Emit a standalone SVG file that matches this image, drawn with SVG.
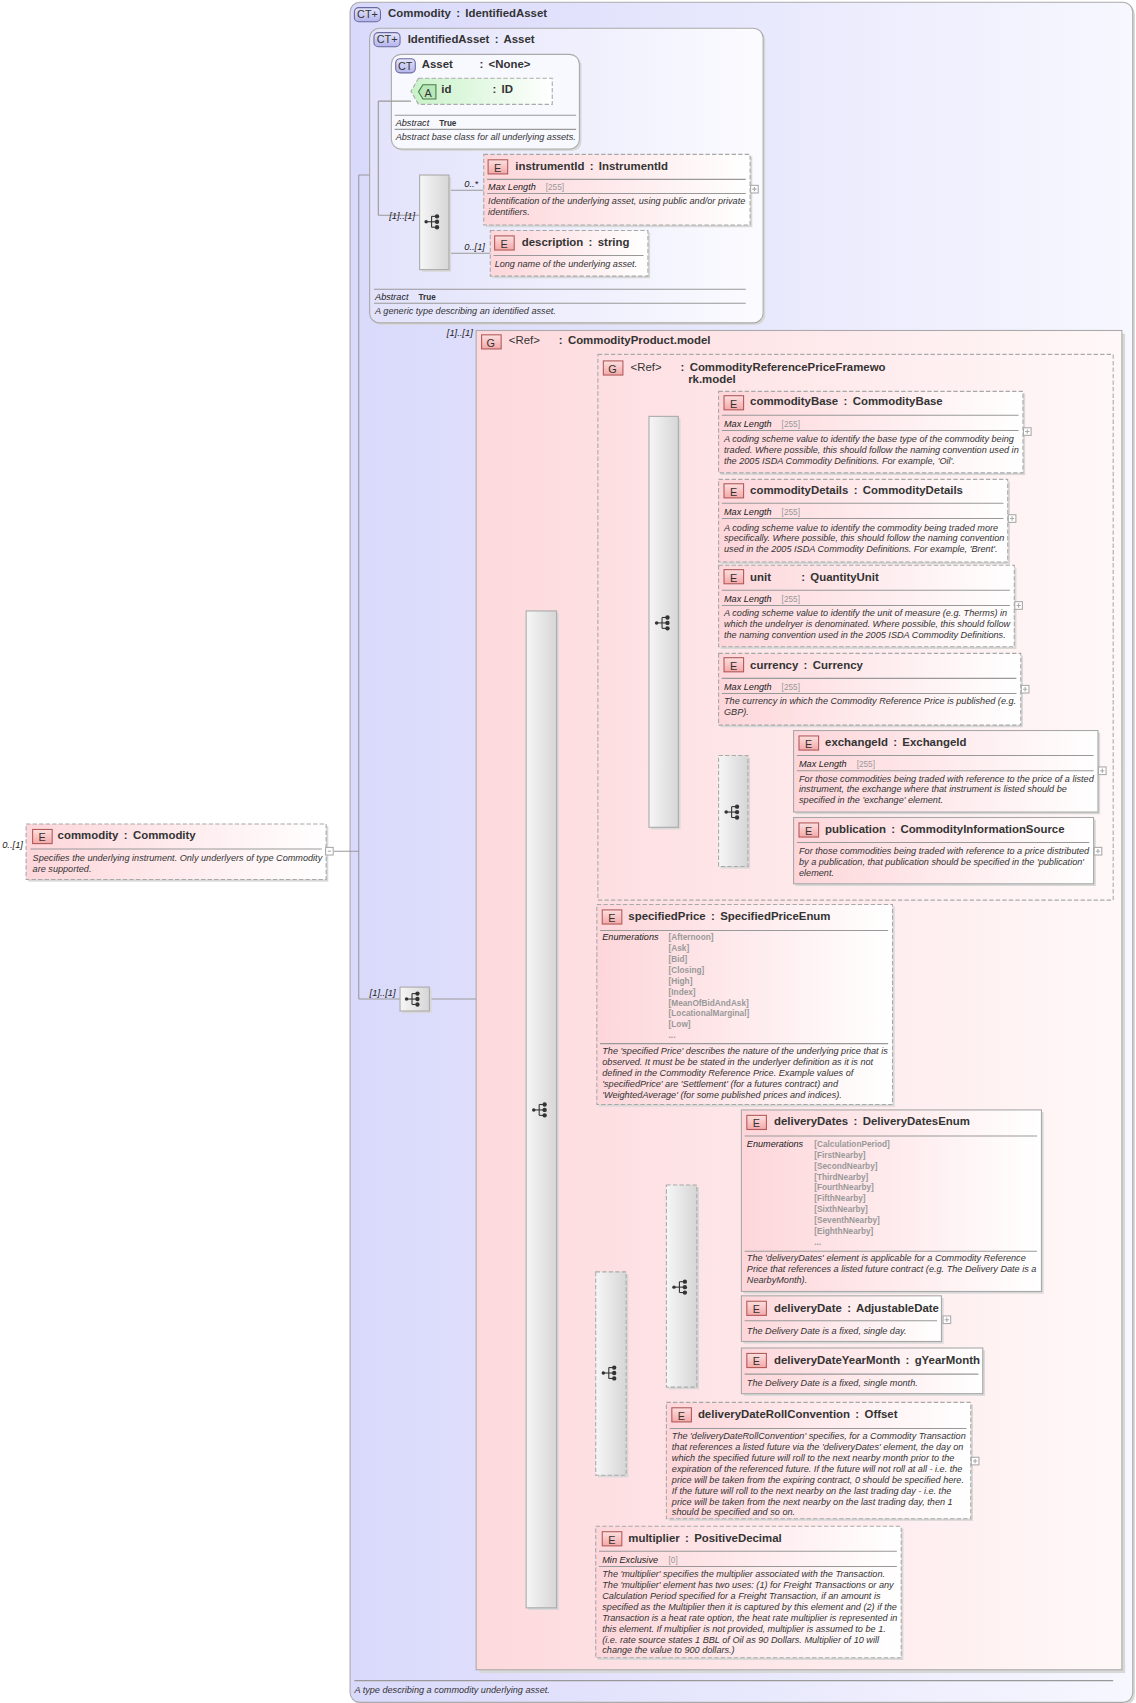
<svg xmlns="http://www.w3.org/2000/svg" width="1136" height="1703" viewBox="0 0 1136 1703">
<defs>
<linearGradient id="gE" x1="0" y1="0" x2="1" y2="0"><stop offset="0" stop-color="#fdd6da"/><stop offset="1" stop-color="#ffffff"/></linearGradient>
<linearGradient id="gG" x1="0" y1="0" x2="1" y2="0"><stop offset="0" stop-color="#fdd9dd"/><stop offset="1" stop-color="#fff8f8"/></linearGradient>
<linearGradient id="gCT" x1="0" y1="0" x2="1" y2="0"><stop offset="0" stop-color="#d9d9fb"/><stop offset="1" stop-color="#f7f7ff"/></linearGradient>
<linearGradient id="gCT2" x1="0" y1="0" x2="1" y2="0"><stop offset="0" stop-color="#e2e2fb"/><stop offset="1" stop-color="#fbfbff"/></linearGradient>
<linearGradient id="gA" x1="0" y1="0" x2="1" y2="0"><stop offset="0" stop-color="#c8f2c8"/><stop offset="1" stop-color="#ffffff"/></linearGradient>
<linearGradient id="gS" x1="0" y1="0" x2="1" y2="0"><stop offset="0" stop-color="#f6f6f6"/><stop offset="1" stop-color="#d6d6d6"/></linearGradient>
<linearGradient id="gI" x1="0" y1="0" x2="0" y2="1"><stop offset="0" stop-color="#fde0e0"/><stop offset="1" stop-color="#f4a8a8"/></linearGradient>
<linearGradient id="gIc" x1="0" y1="0" x2="0" y2="1"><stop offset="0" stop-color="#e6e6fb"/><stop offset="1" stop-color="#b4b4ec"/></linearGradient>
<symbol id="seq" viewBox="-9 -7 18 14" width="18" height="14" overflow="visible">
<g stroke="#333" stroke-width="1" fill="#333"><line x1="-7" y1="0" x2="-2" y2="0"/><line x1="-2" y1="-5" x2="-2" y2="5"/><line x1="-2" y1="-5" x2="3" y2="-5"/><line x1="-2" y1="0" x2="3" y2="0"/><line x1="-2" y1="5" x2="3" y2="5"/><circle cx="-7" cy="0" r="1.6" stroke="none"/><circle cx="3" cy="-5" r="2" stroke="none"/><circle cx="3" cy="0" r="2" stroke="none"/><circle cx="3" cy="5" r="2" stroke="none"/></g>
</symbol>
<symbol id="plus" width="8" height="8" overflow="visible"><rect x="0.5" y="0.5" width="7" height="7" fill="#fff" stroke="#aaa"/><path d="M2 4h4M4 2v4" stroke="#aaa"/></symbol>
</defs>
<style>
text{font-family:"Liberation Sans",Arial,sans-serif;fill:#333}
.t{font-size:10.5px;font-weight:bold;word-spacing:2px}
.d{font-size:8.4px;font-style:italic}
.k{font-size:8.4px;font-style:italic;fill:#222}
.v{font-size:7.6px;fill:#999}
.en{font-size:7.6px;fill:#999;font-weight:bold}
.m{font-size:8.6px;font-style:italic;fill:#222}
.ic{font-size:10px;fill:#333}
.el{fill:url(#gE);stroke:#a8a8a8;stroke-width:1}
.opt{stroke-dasharray:4,2}
.sh{fill:#d8d8d8}
.sep{stroke:#999;stroke-width:1}
.seqb{fill:url(#gS);stroke:#aaa}
.ie{fill:url(#gI);stroke:#b05a5a}
.ict{fill:url(#gIc);stroke:#6a6aa0}
.cn{stroke:#999;fill:none;stroke-width:1}
</style>
<g transform="scale(1.0871)">
<g id="ct-commodity">
<rect x="324" y="4" width="720" height="1564" rx="9" class="sh"/>
<rect x="322" y="2" width="720" height="1564" rx="9" fill="url(#gCT)" stroke="#aaa"/>
<rect x="326" y="7" width="24" height="13" rx="4" class="ict"/><text x="328.5" y="17" class="ic" font-size="9px">CT+</text>
<text x="357" y="16" class="t">Commodity : IdentifiedAsset</text>
<line x1="326" y1="1546" x2="1024" y2="1546" class="sep"/>
<text x="326" y="1557" class="d">A type describing a commodity underlying asset.</text>
</g>
<g id="ct-identifiedasset">
<rect x="342" y="28" width="362" height="271" rx="9" class="sh"/>
<rect x="340" y="26" width="362" height="271" rx="9" fill="url(#gCT2)" stroke="#aaa"/>
<rect x="344" y="30" width="24" height="13" rx="4" class="ict"/><text x="346.5" y="40" class="ic" font-size="9px">CT+</text>
<text x="375" y="40" class="t">IdentifiedAsset : Asset</text>
<line x1="344" y1="266" x2="686" y2="266" class="sep"/>
<text x="345" y="276" class="k" font-size="8px">Abstract</text><text x="385" y="276" class="d" style="font-style:normal;font-weight:bold;font-size:7.5px">True</text>
<line x1="344" y1="279" x2="686" y2="279" class="sep"/>
<text x="345" y="289" class="d">A generic type describing an identified asset.</text>
</g>
<g id="ct-asset">
<rect x="362" y="52" width="173" height="87" rx="9" class="sh"/>
<rect x="360" y="50" width="173" height="87" rx="9" fill="#f8f8ff" stroke="#aaa"/>
<rect x="364" y="54" width="18" height="13" rx="4" class="ict"/><text x="366" y="64" class="ic" font-size="9px">CT</text>
<text x="388" y="63" class="t">Asset</text><text x="441" y="63" class="t">: &lt;None&gt;</text>
<line x1="363" y1="106" x2="530" y2="106" class="sep"/>
<text x="364" y="116" class="k">Abstract</text><text x="404" y="116" class="d" style="font-style:normal;font-weight:bold;font-size:7.5px">True</text>
<line x1="363" y1="119" x2="530" y2="119" class="sep"/>
<text x="364" y="129" class="d">Abstract base class for all underlying assets.</text>
</g>
<g id="attr-id">
<path d="M385 72 H508 V96 H385 L378 84 Z" fill="url(#gA)" stroke="#aaa" stroke-dasharray="4,2"/>
<path d="M389 78 H401 V91 H389 L385 84.5 Z" fill="#b8e8b8" stroke="#4a7a4a"/><text x="390.5" y="89" class="ic">A</text>
<text x="406" y="86" class="t">id</text><text x="453" y="86" class="t">: ID</text>
</g>
<g id="connectors" class="cn">
<path d="M307 783 H330 M330 161 V919 M330 161 H340 M330 919 H368"/>
<path d="M348 93 V198 M348 93 H378 M348 198 H386"/>
<path d="M413 175 H445 M413 233 H451"/>
<path d="M395 919 H438"/>
<path d="M438 1020 H484"/>
<path d="M512 574 H597 M512 920 H549 M512 1262 H548 M512 1461 H548"/>
<path d="M624 393 H661 M624 473 H661 M624 553 H661 M624 630 H661 M624 742 H661"/>
<path d="M688 708 H730 M688 784 H730"/>
<path d="M576 1183 H613 M576 1340 H613"/>
<path d="M641 1102 H682 M641 1211 H682 M641 1262 H682"/>
</g>
<g id="labels">
<text x="2" y="780" class="m">0..[1]</text>
<text x="340" y="916" class="m">[1]..[1]</text>
<text x="358" y="201" class="m">[1]..[1]</text>
<text x="427" y="172" class="m">0..*</text>
<text x="427" y="230" class="m">0..[1]</text>
<text x="411" y="309" class="m">[1]..[1]</text>
<text x="457" y="1018" class="m">[1]..[1]</text>
<text x="528" y="333" class="m">0..[1]</text>
<text x="569" y="569" class="m">[1]..[1]</text>
<text x="638" y="394" class="m">0..[1]</text>
<text x="638" y="474" class="m">0..[1]</text>
<text x="638" y="554" class="m">0..[1]</text>
<text x="638" y="631" class="m">0..[1]</text>
<text x="638" y="743" class="m">0..[1]</text>
<text x="703" y="706" class="m">[1]..[1]</text>
<text x="703" y="779" class="m">[1]..[1]</text>
<text x="526" y="920" class="m">0..[1]</text>
<text x="526" y="1259" class="m">0..[1]</text>
<text x="590" y="1180" class="m">0..[1]</text>
<text x="590" y="1339" class="m">0..[1]</text>
<text x="655" y="1100" class="m">[1]..[1]</text>
<text x="655" y="1210" class="m">[1]..[1]</text>
<text x="655" y="1258" class="m">[1]..[1]</text>
<text x="526" y="1460" class="m">0..[1]</text>
</g>
<g id="el-commodity">
<rect x="26" y="760" width="276" height="51" class="sh"/>
<rect x="24" y="758" width="276" height="51" class="el opt"/>
<rect x="30" y="763" width="18" height="13" class="ie"/><text x="35.5" y="774" class="ic">E</text>
<text x="53" y="772" class="t">commodity : Commodity</text>
<line x1="28" y1="781" x2="296" y2="781" class="sep"/>
<text x="30" y="792" class="d">Specifies the underlying instrument. Only underlyers of type Commodity</text>
<text x="30" y="802" class="d">are supported.</text>
<rect x="299.5" y="779.5" width="7" height="7" fill="#fff" stroke="#aaa"/><path d="M301.5 783h3" stroke="#aaa"/>
</g>
<g id="choice-top">
<rect x="370" y="910" width="27" height="22" class="sh"/>
<rect x="368" y="908" width="27" height="22" class="seqb"/>
<use href="#seq" x="372" y="912"/>
</g>
<g id="seq-identified">
<rect x="388" y="163" width="27" height="87" class="sh"/>
<rect x="386" y="161" width="27" height="87" class="seqb"/>
<use href="#seq" x="390" y="197"/>
</g>
<g id="el-instrumentId">
<rect x="447" y="144" width="245" height="65" class="sh"/>
<rect x="445" y="142" width="245" height="65" class="el opt"/>
<rect x="449" y="147" width="18" height="13" class="ie"/><text x="454.5" y="158" class="ic">E</text>
<text x="474" y="156" class="t">instrumentId : InstrumentId</text>
<line x1="448" y1="165" x2="686" y2="165" class="sep"/>
<text x="449" y="175" class="k">Max Length</text><text x="502" y="175" class="v">[255]</text>
<line x1="448" y1="178" x2="686" y2="178" class="sep"/>
<text x="449" y="188" class="d">Identification of the underlying asset, using public and/or private</text>
<text x="449" y="198" class="d">identifiers.</text>
<use href="#plus" x="690" y="170"/>
</g>
<g id="el-description">
<rect x="453" y="214" width="145" height="42" class="sh"/>
<rect x="451" y="212" width="145" height="42" class="el opt"/>
<rect x="455" y="217" width="18" height="13" class="ie"/><text x="460.5" y="228" class="ic">E</text>
<text x="480" y="226" class="t">description : string</text>
<line x1="454" y1="235" x2="592" y2="235" class="sep"/>
<text x="455" y="246" class="d">Long name of the underlying asset.</text>
</g>
<g id="grp-product">
<rect x="441" y="307" width="594" height="1232" class="sh"/>
<rect x="438" y="304" width="594" height="1232" fill="url(#gG)" stroke="#aaa"/>
<rect x="443" y="308" width="18" height="13" class="ie"/><text x="447.5" y="319" class="ic">G</text>
<text x="468" y="316" class="t" style="font-weight:normal">&lt;Ref&gt;</text><text x="514" y="316" class="t">: CommodityProduct.model</text>
</g>
<g id="seq-product">
<rect x="486" y="564" width="28" height="917" class="sh"/>
<rect x="484" y="562" width="28" height="917" class="seqb"/>
<use href="#seq" x="489" y="1014"/>
</g>
<g id="grp-refprice">
<rect x="550" y="326" width="474" height="502" fill="none" stroke="#aaa" stroke-dasharray="4,2"/>
<rect x="555" y="332" width="18" height="13" class="ie"/><text x="559.5" y="343" class="ic">G</text>
<text x="580" y="341" class="t" style="font-weight:normal">&lt;Ref&gt;</text><text x="626" y="341" class="t">: CommodityReferencePriceFramewo</text>
<text x="633" y="352" class="t">rk.model</text>
</g>
<g id="seq-refprice">
<rect x="599" y="385" width="27" height="378" class="sh"/>
<rect x="597" y="383" width="27" height="378" class="seqb"/>
<use href="#seq" x="602" y="566"/>
</g>
<g id="el-commodityBase">
<rect x="663" y="362" width="280" height="75" class="sh"/>
<rect x="661" y="360" width="280" height="75" class="el opt"/>
<rect x="666" y="364" width="18" height="13" class="ie"/><text x="671.5" y="375" class="ic">E</text>
<text x="690" y="373" class="t">commodityBase : CommodityBase</text>
<line x1="664" y1="382" x2="937" y2="382" class="sep"/>
<text x="666" y="393" class="k">Max Length</text><text x="719" y="393" class="v">[255]</text>
<line x1="664" y1="396" x2="937" y2="396" class="sep"/>
<text x="666" y="407" class="d">A coding scheme value to identify the base type of the commodity being</text>
<text x="666" y="417" class="d">traded. Where possible, this should follow the naming convention used in</text>
<text x="666" y="427" class="d">the 2005 ISDA Commodity Definitions. For example, 'Oil'.</text>
<use href="#plus" x="941" y="393"/>
</g>
<g id="el-commodityDetails">
<rect x="663" y="443" width="266" height="76" class="sh"/>
<rect x="661" y="441" width="266" height="76" class="el opt"/>
<rect x="666" y="445" width="18" height="13" class="ie"/><text x="671.5" y="456" class="ic">E</text>
<text x="690" y="454" class="t">commodityDetails : CommodityDetails</text>
<line x1="664" y1="463" x2="923" y2="463" class="sep"/>
<text x="666" y="474" class="k">Max Length</text><text x="719" y="474" class="v">[255]</text>
<line x1="664" y1="477" x2="923" y2="477" class="sep"/>
<text x="666" y="488" class="d">A coding scheme value to identify the commodity being traded more</text>
<text x="666" y="498" class="d">specifically. Where possible, this should follow the naming convention</text>
<text x="666" y="508" class="d">used in the 2005 ISDA Commodity Definitions. For example, 'Brent'.</text>
<use href="#plus" x="927" y="473"/>
</g>
<g id="el-unit">
<rect x="663" y="522" width="272" height="75" class="sh"/>
<rect x="661" y="520" width="272" height="75" class="el opt"/>
<rect x="666" y="524" width="18" height="13" class="ie"/><text x="671.5" y="535" class="ic">E</text>
<text x="690" y="534" class="t">unit</text><text x="737" y="534" class="t">: QuantityUnit</text>
<line x1="664" y1="543" x2="929" y2="543" class="sep"/>
<text x="666" y="554" class="k">Max Length</text><text x="719" y="554" class="v">[255]</text>
<line x1="664" y1="557" x2="929" y2="557" class="sep"/>
<text x="666" y="567" class="d">A coding scheme value to identify the unit of measure (e.g. Therms) in</text>
<text x="666" y="577" class="d">which the undelryer is denominated. Where possible, this should follow</text>
<text x="666" y="587" class="d">the naming convention used in the 2005 ISDA Commodity Definitions.</text>
<use href="#plus" x="933" y="553"/>
</g>
<g id="el-currency">
<rect x="663" y="603" width="278" height="66" class="sh"/>
<rect x="661" y="601" width="278" height="66" class="el opt"/>
<rect x="666" y="605" width="18" height="13" class="ie"/><text x="671.5" y="616" class="ic">E</text>
<text x="690" y="615" class="t">currency : Currency</text>
<line x1="664" y1="624" x2="935" y2="624" class="sep"/>
<text x="666" y="635" class="k">Max Length</text><text x="719" y="635" class="v">[255]</text>
<line x1="664" y1="638" x2="935" y2="638" class="sep"/>
<text x="666" y="648" class="d">The currency in which the Commodity Reference Price is published (e.g.</text>
<text x="666" y="658" class="d">GBP).</text>
<use href="#plus" x="939" y="630"/>
</g>
<g id="choice-exchange">
<rect x="663" y="697" width="27" height="102" class="sh"/>
<rect x="661" y="695" width="27" height="102" class="seqb" stroke-dasharray="4,2"/>
<use href="#seq" x="666" y="740"/>
</g>
<g id="el-exchangeId">
<rect x="732" y="674" width="280" height="75" class="sh"/>
<rect x="730" y="672" width="280" height="75" class="el"/>
<rect x="735" y="677" width="18" height="13" class="ie"/><text x="740.5" y="688" class="ic">E</text>
<text x="759" y="686" class="t">exchangeId : ExchangeId</text>
<line x1="733" y1="695" x2="1006" y2="695" class="sep"/>
<text x="735" y="706" class="k">Max Length</text><text x="788" y="706" class="v">[255]</text>
<line x1="733" y1="709" x2="1006" y2="709" class="sep"/>
<text x="735" y="719" class="d">For those commodities being traded with reference to the price of a listed</text>
<text x="735" y="729" class="d">instrument, the exchange where that instrument is listed should be</text>
<text x="735" y="739" class="d">specified in the 'exchange' element.</text>
<use href="#plus" x="1010" y="705"/>
</g>
<g id="el-publication">
<rect x="732" y="754" width="276" height="61" class="sh"/>
<rect x="730" y="752" width="276" height="61" class="el"/>
<rect x="735" y="757" width="18" height="13" class="ie"/><text x="740.5" y="768" class="ic">E</text>
<text x="759" y="766" class="t">publication : CommodityInformationSource</text>
<line x1="733" y1="775" x2="1002" y2="775" class="sep"/>
<text x="735" y="786" class="d">For those commodities being traded with reference to a price distributed</text>
<text x="735" y="796" class="d">by a publication, that publication should be specified in the 'publication'</text>
<text x="735" y="806" class="d">element.</text>
<use href="#plus" x="1006" y="779"/>
</g>
<g id="el-specifiedPrice">
<rect x="551" y="834" width="272" height="184" class="sh"/>
<rect x="549" y="832" width="272" height="184" class="el opt"/>
<rect x="554" y="837" width="18" height="13" class="ie"/><text x="559.5" y="848" class="ic">E</text>
<text x="578" y="846" class="t">specifiedPrice : SpecifiedPriceEnum</text>
<line x1="552" y1="856" x2="817" y2="856" class="sep"/>
<text x="554" y="865" class="k">Enumerations</text>
<text class="en"><tspan x="615" y="865">[Afternoon]</tspan><tspan x="615" y="875">[Ask]</tspan><tspan x="615" y="885">[Bid]</tspan><tspan x="615" y="895">[Closing]</tspan><tspan x="615" y="905">[High]</tspan><tspan x="615" y="915">[Index]</tspan><tspan x="615" y="925">[MeanOfBidAndAsk]</tspan><tspan x="615" y="935">[LocationalMarginal]</tspan><tspan x="615" y="945">[Low]</tspan><tspan x="615" y="955">...</tspan></text>
<line x1="552" y1="960" x2="817" y2="960" class="sep"/>
<text x="554" y="970" class="d">The 'specified Price' describes the nature of the underlying price that is</text>
<text x="554" y="980" class="d">observed. It must be be stated in the underlyer definition as it is not</text>
<text x="554" y="990" class="d">defined in the Commodity Reference Price. Example values of</text>
<text x="554" y="1000" class="d">'specifiedPrice' are 'Settlement' (for a futures contract) and</text>
<text x="554" y="1010" class="d">'WeightedAverage' (for some published prices and indices).</text>
</g>
<g id="choice-delivery">
<rect x="550" y="1172" width="28" height="187" class="sh"/>
<rect x="548" y="1170" width="28" height="187" class="seqb" stroke-dasharray="4,2"/>
<use href="#seq" x="553" y="1256"/>
</g>
<g id="choice-dates">
<rect x="615" y="1092" width="28" height="186" class="sh"/>
<rect x="613" y="1090" width="28" height="186" class="seqb" stroke-dasharray="4,2"/>
<use href="#seq" x="618" y="1177"/>
</g>
<g id="el-deliveryDates">
<rect x="684" y="1023" width="276" height="167" class="sh"/>
<rect x="682" y="1021" width="276" height="167" class="el"/>
<rect x="687" y="1026" width="18" height="13" class="ie"/><text x="692.5" y="1037" class="ic">E</text>
<text x="712" y="1035" class="t">deliveryDates : DeliveryDatesEnum</text>
<line x1="685" y1="1045" x2="954" y2="1045" class="sep"/>
<text x="687" y="1055" class="k">Enumerations</text>
<text class="en"><tspan x="749" y="1055">[CalculationPeriod]</tspan><tspan x="749" y="1065">[FirstNearby]</tspan><tspan x="749" y="1075">[SecondNearby]</tspan><tspan x="749" y="1085">[ThirdNearby]</tspan><tspan x="749" y="1095">[FourthNearby]</tspan><tspan x="749" y="1105">[FifthNearby]</tspan><tspan x="749" y="1115">[SixthNearby]</tspan><tspan x="749" y="1125">[SeventhNearby]</tspan><tspan x="749" y="1135">[EighthNearby]</tspan><tspan x="749" y="1145">...</tspan></text>
<line x1="685" y1="1151" x2="954" y2="1151" class="sep"/>
<text x="687" y="1160" class="d">The 'deliveryDates' element is applicable for a Commodity Reference</text>
<text x="687" y="1170" class="d">Price that references a listed future contract (e.g. The Delivery Date is a</text>
<text x="687" y="1180" class="d">NearbyMonth).</text>
</g>
<g id="el-deliveryDate">
<rect x="684" y="1194" width="184" height="42" class="sh"/>
<rect x="682" y="1192" width="184" height="42" class="el"/>
<rect x="687" y="1197" width="18" height="13" class="ie"/><text x="692.5" y="1208" class="ic">E</text>
<text x="712" y="1207" class="t">deliveryDate : AdjustableDate</text>
<line x1="685" y1="1215" x2="862" y2="1215" class="sep"/>
<text x="687" y="1227" class="d">The Delivery Date is a fixed, single day.</text>
<use href="#plus" x="867" y="1210"/>
</g>
<g id="el-deliveryDateYearMonth">
<rect x="684" y="1242" width="222" height="42" class="sh"/>
<rect x="682" y="1240" width="222" height="42" class="el"/>
<rect x="687" y="1245" width="18" height="13" class="ie"/><text x="692.5" y="1256" class="ic">E</text>
<text x="712" y="1255" class="t">deliveryDateYearMonth : gYearMonth</text>
<line x1="685" y1="1264" x2="900" y2="1264" class="sep"/>
<text x="687" y="1275" class="d">The Delivery Date is a fixed, single month.</text>
</g>
<g id="el-deliveryDateRollConvention">
<rect x="615" y="1292" width="280" height="107" class="sh"/>
<rect x="613" y="1290" width="280" height="107" class="el opt"/>
<rect x="618" y="1295" width="18" height="13" class="ie"/><text x="623.5" y="1306" class="ic">E</text>
<text x="642" y="1304" class="t">deliveryDateRollConvention : Offset</text>
<line x1="616" y1="1314" x2="889" y2="1314" class="sep"/>
<text x="618" y="1324" class="d">The 'deliveryDateRollConvention' specifies, for a Commodity Transaction</text>
<text x="618" y="1334" class="d">that references a listed future via the 'deliveryDates' element, the day on</text>
<text x="618" y="1344" class="d">which the specified future will roll to the next nearby month prior to the</text>
<text x="618" y="1354" class="d">expiration of the referenced future. If the future will not roll at all - i.e. the</text>
<text x="618" y="1364" class="d">price will be taken from the expiring contract, 0 should be specified here.</text>
<text x="618" y="1374" class="d">If the future will roll to the next nearby on the last trading day - i.e. the</text>
<text x="618" y="1384" class="d">price will be taken from the next nearby on the last trading day, then 1</text>
<text x="618" y="1394" class="d">should be specified and so on.</text>
<use href="#plus" x="893" y="1340"/>
</g>
<g id="el-multiplier">
<rect x="550" y="1406" width="281" height="121" class="sh"/>
<rect x="548" y="1404" width="281" height="121" class="el opt"/>
<rect x="554" y="1409" width="18" height="13" class="ie"/><text x="559.5" y="1420" class="ic">E</text>
<text x="578" y="1418" class="t">multiplier : PositiveDecimal</text>
<line x1="551" y1="1427" x2="825" y2="1427" class="sep"/>
<text x="554" y="1438" class="k">Min Exclusive</text><text x="615" y="1438" class="v">[0]</text>
<line x1="551" y1="1441" x2="825" y2="1441" class="sep"/>
<text x="554" y="1451" class="d">The 'multiplier' specifies the multiplier associated with the Transaction.</text>
<text x="554" y="1461" class="d">The 'multiplier' element has two uses: (1) for Freight Transactions or any</text>
<text x="554" y="1471" class="d">Calculation Period specified for a Freight Transaction, if an amount is</text>
<text x="554" y="1481" class="d">specified as the Multiplier then it is captured by this element and (2) if the</text>
<text x="554" y="1491" class="d">Transaction is a heat rate option, the heat rate multiplier is represented in</text>
<text x="554" y="1501" class="d">this element. If multiplier is not provided, multiplier is assumed to be 1.</text>
<text x="554" y="1511" class="d">(i.e. rate source states 1 BBL of Oil as 90 Dollars. Multiplier of 10 will</text>
<text x="554" y="1521" class="d">change the value to 900 dollars.)</text>
</g>
</g>
</svg>
